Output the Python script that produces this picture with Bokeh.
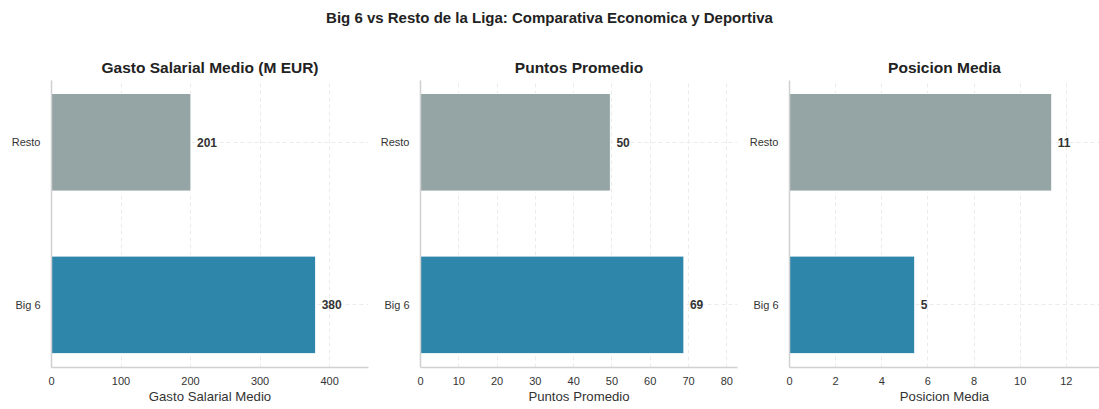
from bokeh.plotting import figure
from bokeh.layouts import row, column
from bokeh.models import Div, Range1d, FixedTicker, SingleIntervalTicker, ColumnDataSource
from bokeh.embed import file_html
from bokeh.resources import INLINE
from bokeh.core.properties import value

# ---- data ----
groups = ["Big 6", "Resto"]
gasto_salarial = [380.0, 200.6]
puntos_promedio = [68.8, 49.6]
posicion_media = [5.43, 11.37]
bar_colors = ["#2E86AB", "#95A5A6"]

FONT = "Liberation Sans"
TXT = "#333333"


def panel(title, vals, xlabel, x_end, interval, width, bl, br):
    ypos = list(range(len(groups)))
    src = ColumnDataSource(dict(
        y=ypos, v=vals, c=bar_colors,
        lab=[f"{v:.0f}" for v in vals],
    ))
    p = figure(width=width, height=383, output_backend="svg", toolbar_location=None,
               x_range=Range1d(0, x_end), y_range=Range1d(-0.385, 1.38),
               min_border_left=bl, min_border_right=br, min_border_top=54,
               min_border_bottom=42, title=title)
    p.outline_line_color = None
    p.background_fill_color = "white"
    p.border_fill_color = "white"
    p.title.text_font = FONT
    p.title.text_font_size = "15.5px"
    p.title.text_font_style = "bold"
    p.title.text_color = "#222222"
    p.title.align = "center"
    p.title.standoff = 9

    p.hbar(y="y", right="v", left=0, height=0.6, fill_color="c", line_color="white",
           line_width=1, source=src)
    p.text(x="v", y="y", text="lab", source=src, x_offset=6,
           text_font=value(FONT), text_font_size="12px", text_font_style="bold",
           text_color=TXT, text_baseline="middle", text_align="left")

    p.yaxis.ticker = FixedTicker(ticks=ypos)
    p.yaxis.major_label_overrides = {i: g for i, g in enumerate(groups)}
    p.xaxis.ticker = SingleIntervalTicker(interval=interval)
    for ax in (p.xaxis[0], p.yaxis[0]):
        ax.axis_line_color = "#d0d0d0"
        ax.axis_line_width = 1.5
        ax.major_tick_line_color = None
        ax.minor_tick_line_color = None
        ax.major_tick_in = 0
        ax.major_tick_out = 0
        ax.minor_tick_in = 0
        ax.minor_tick_out = 0
        ax.major_label_text_font = FONT
        ax.major_label_text_font_size = "11px"
        ax.major_label_text_color = TXT
    p.yaxis.major_label_standoff = 11
    p.xaxis.major_label_standoff = 9
    p.xaxis.axis_label = xlabel
    p.xaxis.axis_label_text_font = FONT
    p.xaxis.axis_label_text_font_size = "13.2px"
    p.xaxis.axis_label_text_font_style = "normal"
    p.xaxis.axis_label_text_color = TXT
    p.xaxis.axis_label_standoff = 1
    for g in (p.xgrid, p.ygrid):
        g.grid_line_color = "#ebebeb"
        g.grid_line_dash = "4 3"
        g.grid_line_width = 1
    p.xgrid.ticker = p.xaxis.ticker
    p.ygrid.ticker = p.yaxis.ticker
    return p


p1 = panel("Gasto Salarial Medio (M EUR)", gasto_salarial, "Gasto Salarial Medio", 456, 100, 377, 51, 9)
p2 = panel("Puntos Promedio", puntos_promedio, "Puntos Promedio", 82.8, 10, 369, 43, 9)
p3 = panel("Posicion Media", posicion_media, "Posicion Media", 13.44, 2, 353, 43, 0)

head = Div(text="Big 6 vs Resto de la Liga: Comparativa Economica y Deportiva",
           width=1099, height=26, margin=(0, 0, 0, 0),
           styles={"text-align": "center", "font-weight": "bold", "font-size": "15px",
                   "font-family": FONT, "color": "#222222", "line-height": "36px"})

layout = column(head, row(p1, p2, p3, spacing=0), spacing=0)
open("out.html", "w").write(file_html(layout, INLINE))
